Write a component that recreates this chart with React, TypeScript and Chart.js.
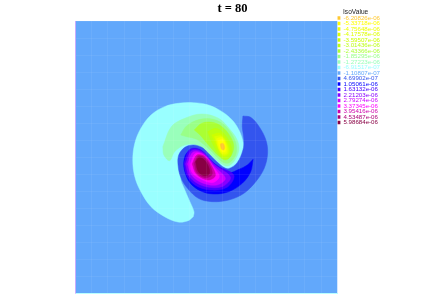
import React, { useEffect, useRef } from "react";
import { Chart, registerables } from "chart.js";

Chart.register(...registerables);

const isoLabels = [
  "-6.20826e-06", "-5.33718e-06", "-4.75648e-06", "-4.17578e-06", "-3.59507e-06",
  "-3.01436e-06", "-2.43366e-06", "-1.85295e-06", "-1.27223e-06", "-6.91517e-07",
  "-1.10807e-07", "4.69902e-07", "1.05061e-06", "1.63132e-06", "2.21203e-06",
  "2.79274e-06", "3.37345e-06", "3.95416e-06", "4.53487e-06", "5.98684e-06",
];

const isoColors = [
  "#ffc830", "#ffff00", "#eeff00", "#ddff00", "#ccff00",
  "#bbff11", "#aaff33", "#99ff88", "#99ffbb", "#99ffff",
  "#62a8fb", "#3355ee", "#0000ff", "#4400ff", "#8800ff",
  "#cc00ff", "#ff00ff", "#cc00aa", "#aa0077", "#880044",
];

const xMin = -135, xMax = 642, yMin = -207, yMax = 609;

const band0 = [[295,162],[303,160],[308,172],[305,180],[298,176]];
const band1 = [[288,152],[302,148],[311,170],[309,185],[297,182]];
const band2 = [[284,146],[300,142],[313,166],[314,188],[300,190],[289,172]];
const band3 = [[278,140],[298,138],[315,163],[318,190],[303,195],[290,175]];
const band4 = [[270,135],[293,130],[315,155],[322,190],[304,200],[288,178]];
const band5 = [[258,125],[282,115],[305,130],[326,165],[326,197],[306,207],[288,190],[268,152]];
const band6 = [[218,120],[240,100],[270,97],[300,110],[325,140],[335,170],[325,200],[310,210],[290,198],[260,165],[235,135]];
const band7 = [[178,135],[195,108],[235,88],[275,88],[310,108],[338,150],[342,190],[322,218],[300,215],[265,180],[225,148],[195,140]];
const band8 = [[125,170],[150,110],[190,85],[240,72],[290,85],[325,120],[345,150],[350,180],[335,215],[315,228],[290,215],[260,190],[225,165],[190,165],[160,185],[145,212],[128,195]];
const band9 = [[215,380],[200,392],[170,396],[130,380],[90,350],[60,305],[42,260],[36,210],[42,160],[60,115],[90,75],[130,50],[170,40],[215,38],[260,45],[300,65],[330,90],[350,120],[362,155],[365,190],[330,245],[260,235],[200,235],[178,262],[190,300],[205,335],[217,365]];
const band11 = [[362,78],[385,82],[410,110],[430,150],[435,190],[425,235],[400,275],[365,310],[320,330],[270,335],[230,325],[198,295],[178,262],[170,225],[172,195],[190,172],[215,165],[240,172],[258,188],[285,215],[305,232],[320,236],[345,218],[362,180],[365,150],[360,110]];
const band12 = [[392,208],[385,245],[360,280],[320,305],[275,312],[235,302],[205,278],[190,245],[187,215],[195,190],[215,176],[238,182],[260,205],[290,230],[320,248],[350,238],[375,225]];
const band13 = [[187,220],[205,178],[238,180],[282,225],[335,255],[315,292],[265,300],[220,285],[195,255]];
const band14 = [[192,222],[210,182],[240,185],[280,225],[325,262],[300,290],[245,288],[205,262]];
const band15 = [[198,222],[215,186],[245,192],[278,230],[310,265],[285,285],[240,278],[210,255]];
const band16 = [[206,222],[222,190],[248,197],[275,232],[292,260],[270,278],[228,262],[210,245]];
const band17 = [[212,222],[226,195],[250,200],[272,232],[280,258],[258,270],[224,252]];
const band18 = [[218,220],[230,198],[250,205],[268,235],[270,255],[250,263],[226,248]];
const band19 = [[222,215],[232,203],[248,210],[262,235],[262,252],[248,257],[230,245]];
const background = [[xMin,yMin],[xMax,yMin],[xMax,yMax],[xMin,yMax]];

const bands = [
  band0, band1, band2, band3, band4, band5, band6, band7, band8, band9,
  background, band11, band12, band13, band14, band15, band16, band17, band18, band19,
];
const paintRank = [11,12,13,14,15,16,17,18,19,20,21,10,9,8,7,6,5,4,3,2];

const meshCells = 16;

export default function App() {
  const ref = useRef<HTMLCanvasElement | null>(null);
  useEffect(() => {
    const chart = new Chart(ref.current as HTMLCanvasElement, {
      type: "scatter",
      data: {
        datasets: bands.map((band, i) => ({
          label: isoLabels[i],
          data: [...band, band[0]].map(([x, y]) => ({ x, y })),
          showLine: true,
          tension: band === background ? 0 : 0.35,
          fill: "shape",
          backgroundColor: isoColors[i],
          borderColor: isoColors[i],
          borderWidth: band === background ? 0 : 0.5,
          pointRadius: 0,
          order: paintRank[i],
        })),
      },
      options: {
        responsive: false,
        animation: false,
        events: [],
        layout: { padding: { left: 75, right: 33, bottom: 6, top: 0 } },
        plugins: {
          tooltip: { enabled: false },
          title: {
            display: true,
            text: "t = 80",
            color: "#000",
            font: { family: "Liberation Serif", weight: "bold", size: 12.5, lineHeight: 1 },
            padding: { top: 3, bottom: 5.5 },
          },
          legend: {
            position: "right",
            align: "start",
            title: {
              display: true,
              text: "   IsoValue",
              position: "start",
              color: "#222",
              font: { family: "Liberation Sans", size: 6.6, lineHeight: 1 },
              padding: { top: 9, bottom: 0 },
            },
            labels: {
              boxWidth: 3.5,
              boxHeight: 3.5,
              padding: -0.65,
              font: { family: "Liberation Sans", size: 6.15, lineHeight: 1 },
              generateLabels: () =>
                isoLabels.map((text, i) => ({
                  text,
                  fillStyle: isoColors[i],
                  strokeStyle: isoColors[i],
                  fontColor: isoColors[i],
                  lineWidth: 0,
                  hidden: false,
                  datasetIndex: i,
                })),
            },
          },
        },
        scales: {
          x: {
            type: "linear",
            min: xMin,
            max: xMax,
            afterBuildTicks: (axis: any) => {
              axis.ticks = Array.from({ length: meshCells + 1 }, (_, k) => ({
                value: xMin + ((xMax - xMin) * k) / meshCells,
              }));
            },
            ticks: { display: false },
            grid: { color: "rgba(255,255,255,0.06)", drawTicks: false, z: 1 },
            border: { display: true, z: 1, color: "rgba(150,255,255,0.7)" },
          },
          y: {
            type: "linear",
            reverse: true,
            min: yMin,
            max: yMax,
            afterBuildTicks: (axis: any) => {
              axis.ticks = Array.from({ length: meshCells + 1 }, (_, k) => ({
                value: yMin + ((yMax - yMin) * k) / meshCells,
              }));
            },
            ticks: { display: false },
            grid: { color: "rgba(255,255,255,0.06)", drawTicks: false, z: 1 },
            border: { display: true, z: 1, color: "rgba(240,170,255,0.7)" },
          },
        },
      } as any,
    });
    return () => chart.destroy();
  }, []);
  return (
    <div style={{ position: "absolute", left: 0, top: 0, width: 423, height: 299 }}>
      <canvas ref={ref} width={423} height={299} style={{ display: "block" }} />
    </div>
  );
}
